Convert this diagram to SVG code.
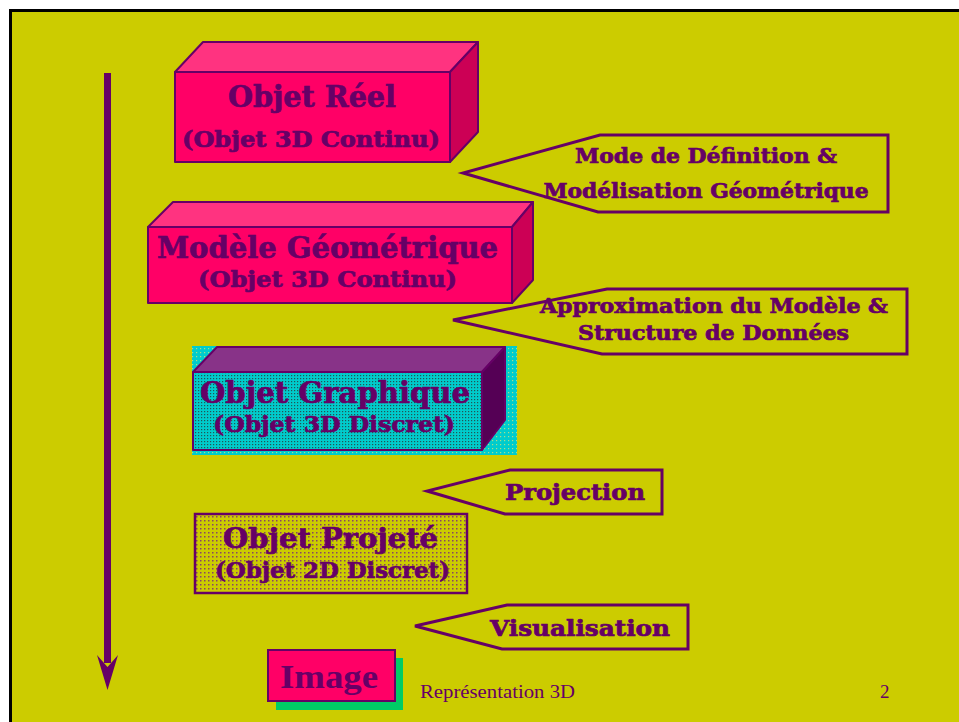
<svg xmlns="http://www.w3.org/2000/svg" width="959" height="722" viewBox="0 0 959 722">
<defs>
<style>
.t{font-family:"DejaVu Serif","Liberation Serif",serif;font-weight:bold;fill:#660066;stroke:#660066;stroke-width:0.7;text-anchor:middle}
.f{font-family:"Liberation Serif","Times New Roman",serif;fill:#660066}
.edge{stroke:#660066;stroke-width:2;stroke-linejoin:round}
.call{fill:#CCCC00;stroke:#660066;stroke-width:3;stroke-linejoin:miter}
</style>
<pattern id="dotCyan" width="3" height="3" patternUnits="userSpaceOnUse">
<rect width="3" height="3" fill="#00CCCC"/><rect width="1.2" height="1.2" fill="#225555"/>
</pattern>
<pattern id="dotCyanBg" width="4" height="4" patternUnits="userSpaceOnUse">
<rect width="4" height="4" fill="#00CCCC"/><rect width="1.2" height="1.2" fill="#AADD88"/>
</pattern>
<pattern id="dotYel" width="4" height="4" patternUnits="userSpaceOnUse">
<rect width="4" height="4" fill="#CCCC00"/><rect width="1.5" height="1.5" fill="#884466"/>
</pattern>
</defs>
<rect x="0" y="0" width="959" height="722" fill="#FFFFFF"/>
<rect x="10.5" y="10.5" width="960" height="720" fill="#CCCC00" stroke="#000000" stroke-width="3"/>

<g id="connectors">
<rect x="104" y="73" width="7" height="590" fill="#660066"/>
<path d="M97,655 L107.5,667 L118,655 L107.5,690 Z" fill="#660066"/>
</g>

<g id="objet-reel">
<polygon points="175,72 203,42 478,42 450,72" fill="#FF3380" class="edge"/>
<polygon points="450,72 478,42 478,132 450,162" fill="#CC0055" class="edge"/>
<rect x="175" y="72" width="275" height="90" fill="#FF0066" class="edge"/>
<text class="t" x="312" y="107" font-size="30" textLength="168" lengthAdjust="spacingAndGlyphs">Objet Réel</text>
<text class="t" x="311" y="147" font-size="22" textLength="258" lengthAdjust="spacingAndGlyphs">(Objet 3D Continu)</text>
</g>

<g id="modele-geometrique">
<polygon points="148,227 173,202 533,202 512,227" fill="#FF3380" class="edge"/>
<polygon points="512,227 533,202 533,280 512,303" fill="#CC0055" class="edge"/>
<rect x="148" y="227" width="364" height="76" fill="#FF0066" class="edge"/>
<text class="t" x="327.5" y="258" font-size="30" textLength="341" lengthAdjust="spacingAndGlyphs">Modèle Géométrique</text>
<text class="t" x="327.5" y="287" font-size="22" textLength="259" lengthAdjust="spacingAndGlyphs">(Objet 3D Continu)</text>
</g>

<g id="objet-graphique">
<rect x="192" y="346" width="325" height="109" fill="url(#dotCyanBg)"/>
<polygon points="193,372 217,347 505,347 482,372" fill="#883388" class="edge"/>
<polygon points="482,372 505,347 505,420 482,450" fill="#550055" class="edge"/>
<rect x="193" y="372" width="289" height="78" fill="url(#dotCyan)" class="edge"/>
<text class="t" x="335" y="403" font-size="30" textLength="270" lengthAdjust="spacingAndGlyphs">Objet Graphique</text>
<text class="t" x="334" y="432" font-size="22" textLength="242" lengthAdjust="spacingAndGlyphs">(Objet 3D Discret)</text>
</g>

<g id="objet-projete">
<rect x="195" y="514" width="272" height="79" fill="url(#dotYel)" stroke="#660066" stroke-width="2.5"/>
<text class="t" x="330.5" y="548" font-size="28" textLength="215" lengthAdjust="spacingAndGlyphs">Objet Projeté</text>
<text class="t" x="332.5" y="578" font-size="22" textLength="235" lengthAdjust="spacingAndGlyphs">(Objet 2D Discret)</text>
</g>

<g id="image">
<rect x="276" y="658" width="127" height="52" fill="#00CC66"/>
<rect x="268" y="650" width="127" height="51" fill="#FF0066" stroke="#660066" stroke-width="2"/>
<text x="329" y="688" font-family="Liberation Serif, serif" font-weight="bold" font-size="34" fill="#660066" text-anchor="middle" textLength="98" lengthAdjust="spacingAndGlyphs">Image</text>
</g>

<g id="mode-definition">
<polygon points="600,135 888,135 888,212 598,212 463,173" class="call"/>
<text class="t" x="706" y="163" font-size="20" textLength="262" lengthAdjust="spacingAndGlyphs">Mode de Définition &amp;</text>
<text class="t" x="706" y="198" font-size="20" textLength="325" lengthAdjust="spacingAndGlyphs">Modélisation Géométrique</text>
</g>

<g id="approximation">
<polygon points="607,289 907,289 907,354 602,354 453,320" class="call"/>
<text class="t" x="714" y="313" font-size="20" textLength="348" lengthAdjust="spacingAndGlyphs">Approximation du Modèle &amp;</text>
<text class="t" x="713.5" y="340" font-size="20" textLength="271" lengthAdjust="spacingAndGlyphs">Structure de Données</text>
</g>

<g id="projection">
<polygon points="510,470 662,470 662,514 505,514 427,491" class="call"/>
<text class="t" x="575" y="500" font-size="22" textLength="140" lengthAdjust="spacingAndGlyphs">Projection</text>
</g>

<g id="visualisation">
<polygon points="507,605 688,605 688,649 502,649 415,626" class="call"/>
<text class="t" x="580" y="636" font-size="22" textLength="180" lengthAdjust="spacingAndGlyphs">Visualisation</text>
</g>

<g id="footer">
<text class="f" x="420" y="698" font-size="19" textLength="155" lengthAdjust="spacingAndGlyphs">Représentation 3D</text>
<text class="f" x="880" y="698" font-size="19">2</text>
</g>
</svg>
